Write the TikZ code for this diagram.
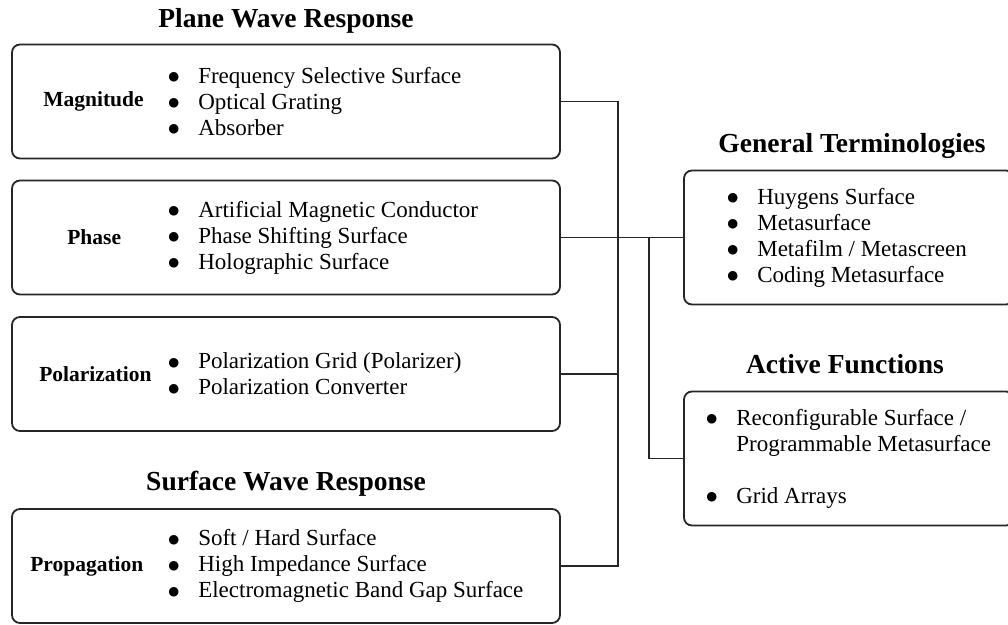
\documentclass[tikz,border=0pt]{standalone}
\usepackage{fontspec}
\setmainfont{Liberation Serif}
\newfontfamily\dotfont{DejaVu Sans}
\usetikzlibrary{positioning}

\newcommand{\itm}{\makebox[30pt][l]{\raisebox{2.5pt}{\dotfont\fontsize{12.5}{12.5}\selectfont ●}}}
\newcommand{\cont}{\hspace*{30pt}}

\begin{document}
\begin{tikzpicture}[
    x=1pt, y=-1pt,
    group/.style={rectangle, rounded corners=8pt, draw=black!85, line width=1.8pt, minimum width=548pt, minimum height=114pt},
    sidebox/.style={rectangle, rounded corners=8pt, draw=black!85, line width=1.8pt, minimum width=330pt, minimum height=134pt},
    heading/.style={font=\fontsize{27.5}{30}\selectfont\bfseries, inner sep=0pt, text depth=0pt},
    kind/.style={font=\fontsize{21.5}{26}\selectfont\bfseries, inner sep=0pt},
    items/.style={font=\fontsize{23}{26}\selectfont, align=left, inner sep=0pt},
    link/.style={line width=1.8pt, draw=black!85}
]
\useasboundingbox (0,0) rectangle (1008,624);

% Left column
\node (mag) [group] at (286,101.5) {};
\node (pha) [group] at (286,237.5) {};
\node (pol) [group] at (286,374) {};
\node (prop) [group] at (286,566) {};

\node (plane) [heading, above=16pt of mag] {Plane Wave Response};
\node (surf) [heading, above=17pt of prop] {Surface Wave Response};

\node (magK) [kind, right=32pt of mag.west] {Magnitude};
\node (phaK) [kind, right=56pt of pha.west] {Phase};
\node (polK) [kind, right=28pt of pol.west] {Polarization};
\node (propK) [kind, right=19pt of prop.west] {Propagation};

\node (magL) [items, right=157pt of mag.west] {\itm Frequency Selective Surface\\ \itm Optical Grating\\ \itm Absorber};
\node (phaL) [items, right=157pt of pha.west] {\itm Artificial Magnetic Conductor\\ \itm Phase Shifting Surface\\ \itm Holographic Surface};
\node (polL) [items, right=157pt of pol.west] {\itm Polarization Grid (Polarizer)\\ \itm Polarization Converter};
\node (propL) [items, right=157pt of prop.west] {\itm Soft / Hard Surface\\ \itm High Impedance Surface\\ \itm Electromagnetic Band Gap Surface};

% Right column
\node (gen) [sidebox] at (849,237.5) {};
\node (act) [sidebox] at (849,458.5) {};

\node (genT) [heading, above=17pt of gen, xshift=3pt] {General Terminologies};
\node (actT) [heading, above=17pt of act, xshift=-4pt] {Active Functions};

\node (genL) [items, right=44pt of gen.west] {\itm Huygens Surface\\ \itm Metasurface\\ \itm Metafilm / Metascreen\\ \itm Coding Metasurface};
\node (actL) [items, right=23pt of act.west] {\itm Reconfigurable Surface /\\ \cont Programmable Metasurface\\[26pt] \itm Grid Arrays};

% Links
\coordinate (spine) at (618,237.5);
\coordinate (fork) at (649,237.5);
\draw [link] (mag.east) -| (spine) |- (prop.east);
\draw [link] (pol.east) -- (pol.east -| spine);
\draw [link] (pha.east) -- (gen.west);
\draw [link] (fork) |- (act.west);

\end{tikzpicture}
\end{document}
